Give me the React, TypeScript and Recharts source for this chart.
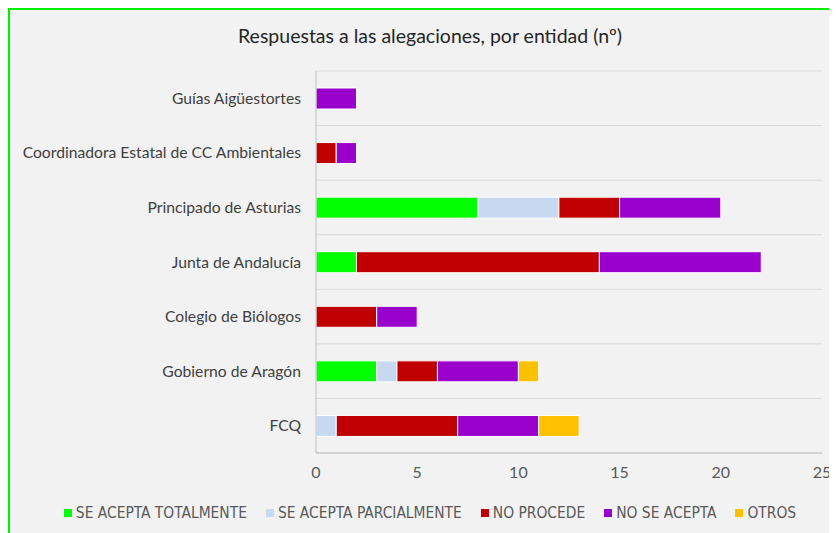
import { BarChart, Bar, XAxis, YAxis, CartesianGrid, Legend } from "recharts";

const entidades = [
  "Guías Aigüestortes",
  "Coordinadora Estatal de CC Ambientales",
  "Principado de Asturias",
  "Junta de Andalucía",
  "Colegio de Biólogos",
  "Gobierno de Aragón",
  "FCQ",
];

const aceptaTotal = [0, 0, 8, 2, 0, 3, 0];
const aceptaParcial = [0, 0, 4, 0, 0, 1, 1];
const noProcede = [0, 1, 3, 12, 3, 2, 6];
const noAcepta = [2, 1, 5, 8, 2, 4, 4];
const otros = [0, 0, 0, 0, 0, 1, 2];

const xTicks = [0, 5, 10, 15, 20, 25];

const series = [
  { key: "total", name: "SE ACEPTA TOTALMENTE", color: "#00ff00", values: aceptaTotal },
  { key: "parcial", name: "SE ACEPTA PARCIALMENTE", color: "#c6d9f0", values: aceptaParcial },
  { key: "noProcede", name: "NO PROCEDE", color: "#c00000", values: noProcede },
  { key: "noAcepta", name: "NO SE ACEPTA", color: "#9900cc", values: noAcepta },
  { key: "otros", name: "OTROS", color: "#ffc000", values: otros },
];

const data = entidades.map((name, i) => {
  const row: Record<string, string | number> = { name };
  series.forEach((s) => {
    row[s.key] = s.values[i];
  });
  return row;
});

const FONT = "Lato, 'Open Sans', sans-serif";

function LegendBox() {
  return (
    <div
      style={{
        display: "flex",
        justifyContent: "center",
        alignItems: "center",
        fontFamily: "'DejaVu Sans Condensed', 'DejaVu Sans', sans-serif",
        fontSize: 15.4,
        color: "#595959",
        lineHeight: "20px",
      }}
    >
      {series.map((s, i) => (
        <div
          key={s.key}
          style={{ display: "flex", alignItems: "center", marginLeft: i === 0 ? 0 : 19 }}
        >
          <span
            style={{ width: 8, height: 8, background: s.color, marginRight: 4, display: "inline-block" }}
          />
          <span>{s.name}</span>
        </div>
      ))}
    </div>
  );
}

export default function App() {
  return (
    <div
      style={{
        width: 829,
        height: 525,
        borderLeft: "2px solid #00f000",
        borderTop: "2px solid #00f000",
        boxSizing: "border-box",
        background: "#f2f2f2",
        overflow: "hidden",
        position: "relative",
      }}
    >
      <div
        style={{
          position: "absolute",
          top: 14,
          left: 0,
          width: 840,
          textAlign: "center",
          fontFamily: FONT,
          fontSize: 19.5,
          color: "#262626",
        }}
      >
        Respuestas a las alegaciones, por entidad (nº)
      </div>
      <BarChart
        width={840}
        height={523}
        data={data}
        layout="vertical"
        margin={{ top: 61, right: 28, left: 0, bottom: 30 }}
        style={{ fontFamily: FONT }}
      >
        <CartesianGrid
          vertical={false}
          stroke="#d9d9d9"
          horizontalCoordinatesGenerator={({ offset }: any) =>
            entidades.map((_, i) => offset.top + (i * offset.height) / entidades.length).concat(offset.top + offset.height)
          }
        />
        <XAxis
          type="number"
          domain={[0, 25]}
          ticks={xTicks}
          tickLine={false}
          tickMargin={8}
          height={30}
          axisLine={{ stroke: "#bfbfbf" }}
          tick={{ fill: "#595959", fontSize: 16 }}
        />
        <YAxis
          type="category"
          dataKey="name"
          width={306}
          tickLine={false}
          tickMargin={9}
          axisLine={{ stroke: "#bfbfbf" }}
          tick={{ fill: "#404040", fontSize: 15.7 }}
          interval={0}
        />
        <Legend
          verticalAlign="bottom"
          content={() => <LegendBox />}
          wrapperStyle={{ bottom: 10, left: 0, width: 840 }}
        />
        {series.map((s) => (
          <Bar
            key={s.key}
            dataKey={s.key}
            name={s.name}
            stackId="a"
            fill={s.color}
            stroke="#ffffff"
            strokeWidth={1}
            barSize={21}
            isAnimationActive={false}
          />
        ))}
      </BarChart>
    </div>
  );
}
